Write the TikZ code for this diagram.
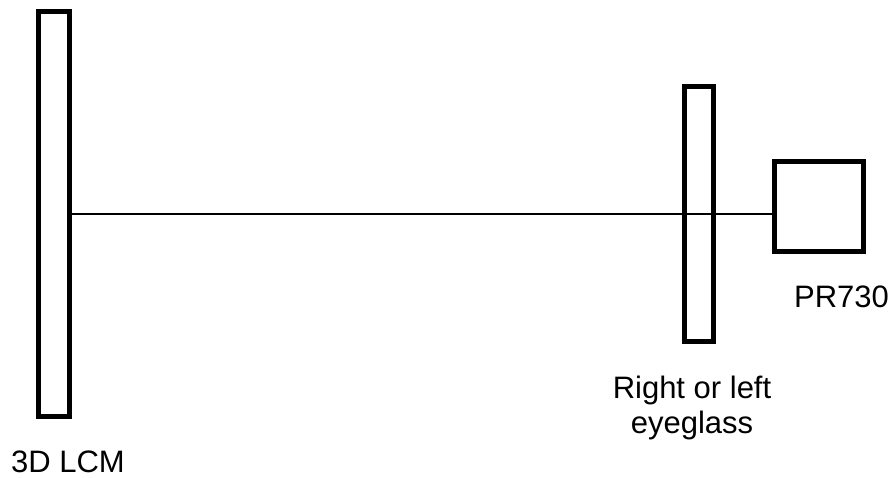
\documentclass[tikz,border=0pt]{standalone}
\usepackage{fontspec}
\setmainfont{Liberation Sans}
\usepackage{tikz}

\begin{document}
\begin{tikzpicture}[x=1pt,y=-1pt,
    plate/.style={draw,line width=5pt,inner sep=0pt},
    caption/.style={inner sep=0pt,font=\fontsize{31}{35}\selectfont}]
        \useasboundingbox (0,0) rectangle (893,477);

        \coordinate (lcmC) at (53.75,214.2);
        \coordinate (glassC) at (698.75,214.2);
        \coordinate (prC) at (818.75,206.75);

        \node[plate,minimum width=31.5pt,minimum height=405.3pt] (lcm) at (lcmC){};
        \node[plate,minimum width=28.5pt,minimum height=254.8pt] (glass) at (glassC){};
        \node[plate,minimum width=89.5pt,minimum height=90pt] (pr) at (prC){};

        \draw[line width=2.2pt] (lcm.east) -- (lcm.east -| pr.west);

        \node[caption,anchor=base] (lcmtext) at (68,472){3D LCM};
        \node[caption,anchor=base] (prtext) at (841.5,307.5){PR730};
        \node[caption,anchor=base,align=center] (glasstext) at (692,433.3){Right or left\\eyeglass};
    \end{tikzpicture}
\end{document}
